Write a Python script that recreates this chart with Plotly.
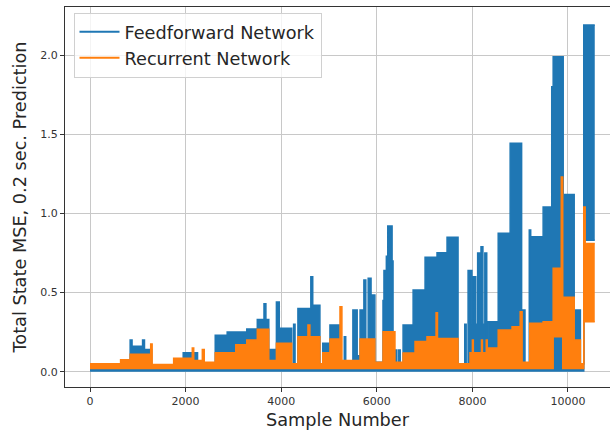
import plotly.graph_objects as go

# Feedforward network: envelope of the dense MSE trace, per segment [start, next start)
ff_breaks = [0, 840, 880, 1100, 1140, 1290, 1950, 2250, 2620, 2870, 3280, 3500, 3640, 3680,
             3740, 3900, 3960, 4220, 4260, 4290, 4350, 4620, 4660, 4810, 4870, 5020, 5230,
             5320, 5350, 5500, 5590, 5650, 5730, 5770, 5820, 5880, 5900, 5960, 6130, 6150,
             6200, 6230, 6320, 6340, 6390, 6420, 6460, 6490, 6550, 6760, 7010, 7260, 7470,
             7700, 7840, 7870, 7910, 7990, 8010, 8070, 8110, 8150, 8180, 8220, 8260, 8300,
             8330, 8540, 8790, 9030, 9060, 9100, 9190, 9220, 9480, 9660, 9690, 9900, 10130,
             10260, 10330]
ff_high = [0.03, 0.20, 0.16, 0.20, 0.14, 0.03, 0.12, 0.04, 0.23, 0.25, 0.27, 0.33, 0.43, 0.33,
           0.14, 0.44, 0.275, 0.05, 0.30, 0.05, 0.40, 0.60, 0.42, 0.05, 0.18, 0.295, 0.05,
           0.22, 0.05, 0.39, 0.10, 0.39, 0.58, 0.20, 0.59, 0.20, 0.485, 0.06, 0.45, 0.64,
           0.73, 0.92, 0.70, 0.05, 0.137, 0.05, 0.137, 0.05, 0.295, 0.516, 0.723, 0.752, 0.849,
           0.05, 0.30, 0.05, 0.64, 0.30, 0.60, 0.30, 0.75, 0.30, 0.79, 0.30, 0.75, 0.20,
           0.316, 0.874, 1.443, 0.05, 0.39, 0.05, 0.895, 0.853, 1.04, 1.80, 1.99, 1.12, 0.39,
           0.05, 2.19]
ff_low = [0.005] * (len(ff_breaks) - 1) + [0.83]
ff_end = 10560

# Recurrent network
rnn_breaks = [0, 640, 840, 1270, 1300, 1750, 2140, 2170, 2350, 2390, 2620, 2870, 3050, 3280,
              3500, 3740, 3900, 4220, 4350, 4560, 4600, 4810, 4870, 5020, 5230, 5270, 5650,
              5960, 6130, 6380, 6550, 6800, 7050, 7240, 7270, 7700, 7950, 8000, 8020, 8190,
              8210, 8290, 8310, 8540, 8830, 9000, 9040, 9200, 9480, 9690, 9860, 9890, 10130,
              10260, 10330, 10360]
rnn_high = [0.05, 0.075, 0.11, 0.175, 0.045, 0.085, 0.15, 0.07, 0.14, 0.06, 0.12, 0.12, 0.17,
            0.20, 0.268, 0.07, 0.18, 0.05, 0.22, 0.295, 0.22, 0.05, 0.12, 0.207, 0.41, 0.07,
            0.207, 0.06, 0.253, 0.06, 0.118, 0.19, 0.22, 0.373, 0.21, 0.05, 0.12, 0.20, 0.12,
            0.20, 0.12, 0.20, 0.15, 0.263, 0.284, 0.379, 0.06, 0.306, 0.316, 0.653, 1.23, 0.47,
            0.20, 0.05, 1.04, 0.81]
rnn_low = ([0.02] * 49) + [0.22, 0.22, 0.02, 0.02, 0.02, 0.316, 0.316]
rnn_end = 10560

x_ticks = [0, 2000, 4000, 6000, 8000, 10000]
y_ticks = [0.0, 0.5, 1.0, 1.5, 2.0]

BLUE = "#1f77b4"
ORANGE = "#ff7f0e"


def band(breaks, low, high, end, color, name):
    xs = list(breaks) + [end]
    lo = list(low) + [low[-1]]
    hi = list(high) + [high[-1]]
    t_lo = go.Scatter(x=xs, y=lo, mode="lines", line=dict(color=color, width=1.5, shape="hv"),
                      showlegend=False, hoverinfo="skip")
    t_hi = go.Scatter(x=xs, y=hi, mode="lines", line=dict(color=color, width=1.5, shape="hv"),
                      fill="tonexty", fillcolor=color, showlegend=False, name=name)
    return [t_lo, t_hi]


fig = go.Figure()
for t in band(ff_breaks, ff_low, ff_high, ff_end, BLUE, "Feedforward Network"):
    fig.add_trace(t)
for t in band(rnn_breaks, rnn_low, rnn_high, rnn_end, ORANGE, "Recurrent Network"):
    fig.add_trace(t)
# legend entries (line handles like the original)
for color, name in [(BLUE, "Feedforward Network"), (ORANGE, "Recurrent Network")]:
    fig.add_trace(go.Scatter(x=[None], y=[None], mode="lines", line=dict(color=color, width=2),
                             name=name, showlegend=True))

font_family = "DejaVu Sans, sans-serif"
fig.update_layout(
    width=610, height=433,
    margin=dict(l=65, r=0, t=7, b=46),
    paper_bgcolor="white", plot_bgcolor="white",
    font=dict(family=font_family, color="#262626"),
    showlegend=True,
    legend=dict(x=0.0156, y=0.985, xanchor="left", yanchor="top", traceorder="normal",
                bgcolor="rgba(255,255,255,0.8)", bordercolor="#d0d0d0", borderwidth=1,
                font=dict(size=17.7, family=font_family, color="#262626"),
                tracegroupgap=0, itemwidth=40),
)
fig.update_xaxes(
    range=[-523, 10879], tickvals=x_ticks, ticktext=[str(v) for v in x_ticks],
    showgrid=True, gridcolor="#c8c8c8", gridwidth=1, zeroline=False,
    showline=True, linecolor="#333333", linewidth=1, mirror=True,
    ticks="outside", ticklen=4, tickcolor="#333333", tickfont=dict(size=11, color="#333333"),
    title=dict(text="Sample Number", font=dict(size=17.7, color="#262626"), standoff=6),
)
fig.update_yaxes(
    range=[-0.0967, 2.304], tickvals=y_ticks, ticktext=[f"{v:.1f}" for v in y_ticks],
    showgrid=True, gridcolor="#c8c8c8", gridwidth=1, zeroline=False,
    showline=True, linecolor="#333333", linewidth=1, mirror=False,
    ticks="outside", ticklen=4, tickcolor="#333333", tickfont=dict(size=11, color="#333333"),
    title=dict(text="Total State MSE, 0.2 sec. Prediction", font=dict(size=17.7, color="#262626"),
               standoff=9),
)

fig.write_html("out.html")
